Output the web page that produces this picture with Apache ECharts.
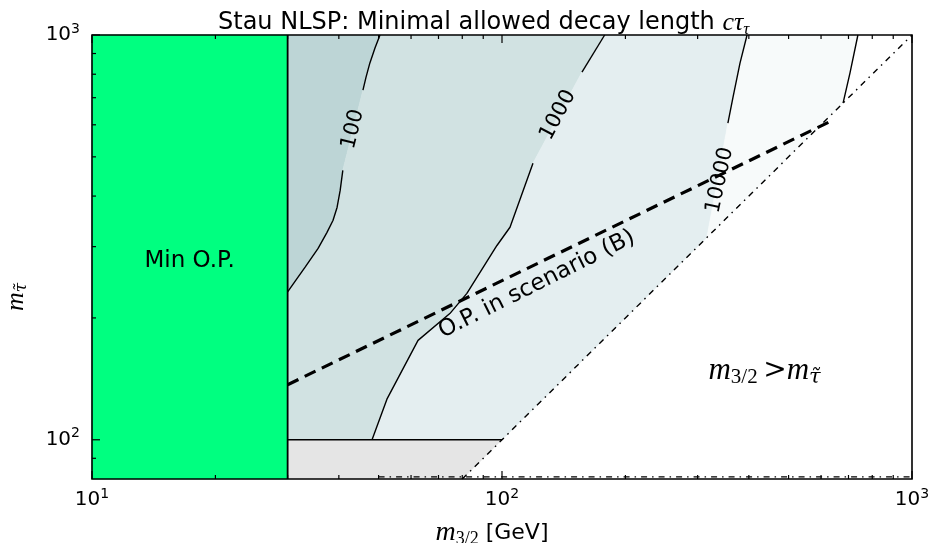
<!DOCTYPE html>
<html><head><meta charset="utf-8">
<script src="https://cdn.jsdelivr.net/npm/echarts@6/dist/echarts.min.js"></script>
<style>html,body{margin:0;padding:0;background:#fff}#c{width:930px;height:543px}</style>
</head><body><div id="c"></div>
<script>
// ---------- data ----------
const xMajor = [10, 100, 1000];
const yMajor = [100, 1000];
const xMinor = [20,30,40,50,60,70,80,90,200,300,400,500,600,700,800,900];
const yMinor = [90,200,300,400,500,600,700,800,900];

const minOPBand = [[10,80],[30,80],[30,1000],[10,1000]];
const grayBand = [[30,80],[80,80],[100,100],[30,100]];
const c100Top = [[50.4,1000],[49.0,929],[47.6,852],[46.6,787],[45.8,731]];
const c100Bottom = [[40.9,463],[40.3,413],[39.6,375],[38.7,348],[37.4,325],[35.6,297],[33.1,267],[31.4,247.5],[30,232]];
const c1000Top = [[178,1000],[156.7,810]];
const c1000Bottom = [[119,482],[104.6,335],[97.2,302],[82.1,230],[74.6,205],[62.4,176],[52.4,126],[48.2,100]];
const c10000Top = [[396,1000],[380.6,852],[366,702],[355.6,606]];
const c10000Bottom = [[316,316]];
const c1e5 = [[738,1000],[706,806],[679,679]];
const opLine = [[30,136.8],[641,616]];
const diagonal = [[80,80],[1000,1000]];
const gravLimit = [[30,100],[100,100]];
const minOPEdge = [[30,80],[30,1000]];
const bottomLine = [[50,81],[1000,81]];

const contourLabelText = ['100', '1000', '10000'];
const contourLabelAt = [[43.3,585],[137,634],[340,438]];
const textLabels = ['Min O.P.', 'O.P. in scenario (B)', '{m|m}{s|3/2}{r|\u2009>}{m|m}{t|τ̃}'];
const textLabelAt = [[17.3,277],[121.6,242],[437,148]];

// ---------- styles ----------
const contourAngles = [76, 62, 78];
const textAngles = [0, 26.5, 0];
const colDark = '#bdd5d6', colMid = '#d1e2e2', colLight = '#e4eef0', colPale = '#f7fafa';
const colGray = '#e5e5e5', colGreen = '#00ff80';

const rev = a => a.slice().reverse();
const c100 = c100Top.concat(c100Bottom);
const c1000 = c1000Top.concat(c1000Bottom);
const c10000 = c10000Top.concat(c10000Bottom);
const regions = [
  {pts: [[30,1000]].concat(c100), color: colDark},
  {pts: c100.concat([[30,100]], rev(c1000)), color: colMid},
  {pts: c1000.concat([[100,100]], rev(c10000)), color: colLight},
  {pts: c10000.concat(rev(c1e5)), color: colPale},
  {pts: grayBand, color: colGray},
  {pts: minOPBand, color: colGreen}
];

const serifIt = {fontFamily: 'Liberation Serif', fontStyle: 'italic', color: '#000'};

function lineS(data, width, type, z) {
  return {type: 'line', data: data, showSymbol: false, symbol: 'none', silent: true, z: z || 3,
    lineStyle: {color: '#000', width: width, type: type || 'solid', cap: 'butt'}, animation: false};
}
function pow10Label(v) {
  const e = Math.round(Math.log10(v));
  if (Math.abs(v - Math.pow(10, e)) > 1e-6 * v) return '';
  return '10{sup|' + e + '}';
}
const labelStyle = {formatter: pow10Label, color: '#000', fontSize: 20, fontFamily: 'DejaVu Sans', lineHeight: 26,
  showMinLabel: true, showMaxLabel: true,
  rich: {sup: {fontSize: 14, lineHeight: 12, verticalAlign: 'top', color: '#000', fontFamily: 'DejaVu Sans'}}};

const chart = echarts.init(document.getElementById('c'), null, {renderer: 'canvas'});
const series = [];
series.push({type: 'custom', coordinateSystem: 'cartesian2d', silent: true, z: 1, animation: false,
  data: regions.map(r => r.pts[0]),
  renderItem: (params, api) => {
    const r = regions[params.dataIndex];
    return {type: 'polygon', shape: {points: r.pts.map(p => api.coord(p))},
      style: {fill: r.color, stroke: r.color, lineWidth: 0.6}};
  }});
[c100Top, c100Bottom, c1000Top, c1000Bottom, c10000Top, c1e5].forEach(d => series.push(lineS(d, 1.4)));
series.push(lineS(gravLimit, 1.5));
series.push(lineS(minOPEdge, 1.8));
series.push(lineS(opLine, 3.2, [12, 7]));
series.push(lineS(diagonal, 1.4, [6, 5, 1.5, 5]));
series.push(lineS(bottomLine, 1.2, [6, 5, 1.5, 5]));
// contour labels
series.push({type: 'custom', coordinateSystem: 'cartesian2d', silent: true, z: 6, animation: false,
  data: contourLabelAt,
  renderItem: (params, api) => {
    const i = params.dataIndex;
    const p = api.coord(contourLabelAt[i]);
    return {type: 'text', x: p[0], y: p[1], rotation: contourAngles[i] * Math.PI / 180,
      style: {text: contourLabelText[i], fontSize: 21, fontFamily: 'DejaVu Sans', fill: '#000', align: 'center', verticalAlign: 'middle'}};
  }});
series.push({type: 'custom', coordinateSystem: 'cartesian2d', silent: true, z: 6, animation: false,
  data: textLabelAt,
  renderItem: (params, api) => {
    const i = params.dataIndex;
    const p = api.coord(textLabelAt[i]);
    return {type: 'text', x: p[0], y: p[1], rotation: textAngles[i] * Math.PI / 180,
      style: {text: textLabels[i], fontSize: 23, fontFamily: 'DejaVu Sans', fill: '#000', align: 'center', verticalAlign: 'middle',
        lineHeight: 34,
        rich: {m: Object.assign({fontSize: 31, lineHeight: 34}, serifIt),
               s: {fontSize: 21, lineHeight: 18, verticalAlign: 'bottom', fontFamily: 'Liberation Serif', color: '#000'},
               t: Object.assign({fontSize: 21, lineHeight: 18, verticalAlign: 'bottom'}, serifIt, {fontFamily: 'DejaVu Serif'}),
               r: {fontSize: 28, lineHeight: 34, fontFamily: 'DejaVu Serif', color: '#000'}}}};
  }});
// ticks
const xTicks = xMajor.map(v => [v, 100, 8]).concat(xMinor.map(v => [v, 100, 4]));
const yTicks = yMajor.map(v => [20, v, 8]).concat(yMinor.map(v => [20, v, 4]));
series.push({type: 'custom', coordinateSystem: 'cartesian2d', silent: true, z: 8, animation: false,
  data: xTicks,
  renderItem: (params, api) => {
    const x = api.coord([api.value(0), 100])[0];
    const cs = params.coordSys, len = api.value(2);
    const st = {stroke: '#000', lineWidth: 1.2};
    return {type: 'group', children: [
      {type: 'line', shape: {x1: x, y1: cs.y + cs.height, x2: x, y2: cs.y + cs.height - len}, style: st},
      {type: 'line', shape: {x1: x, y1: cs.y, x2: x, y2: cs.y + len}, style: st}]};
  }});
series.push({type: 'custom', coordinateSystem: 'cartesian2d', silent: true, z: 8, animation: false,
  data: yTicks,
  renderItem: (params, api) => {
    const y = api.coord([20, api.value(1)])[1];
    const cs = params.coordSys, len = api.value(2);
    return {type: 'line', shape: {x1: cs.x, y1: y, x2: cs.x + len, y2: y}, style: {stroke: '#000', lineWidth: 1.2}};
  }});
// frame
series.push({type: 'custom', coordinateSystem: 'cartesian2d', silent: true, z: 9, animation: false,
  data: [[10, 80]],
  renderItem: (params) => {
    const cs = params.coordSys;
    return {type: 'rect', shape: {x: cs.x, y: cs.y, width: cs.width, height: cs.height},
      style: {fill: null, stroke: '#000', lineWidth: 1.6}};
  }});

chart.setOption({
  animation: false,
  backgroundColor: '#fff',
  title: {text: 'Stau NLSP: Minimal allowed decay length {m|cτ}{s|τ}', left: 213, top: 3,
    textStyle: {fontFamily: 'DejaVu Sans', fontSize: 24, fontWeight: 'normal', color: '#000', lineHeight: 30,
      rich: {m: Object.assign({fontSize: 26, lineHeight: 30}, serifIt),
             s: Object.assign({fontSize: 17, lineHeight: 14, verticalAlign: 'bottom'}, serifIt)}}},
  grid: {left: 92, right: 18, top: 35, bottom: 64, containLabel: false, outerBoundsMode: 'none', show: false},
  xAxis: {type: 'log', logBase: 10, min: 10, max: 1000,
    axisLine: {show: false}, axisTick: {show: false}, splitLine: {show: false},
    axisLabel: Object.assign({margin: 8}, labelStyle),
    name: '{m|m}{s|3/2} [GeV]', nameLocation: 'middle', nameGap: 36,
    nameTextStyle: {fontFamily: 'DejaVu Sans', fontSize: 22, color: '#000', lineHeight: 30, padding: [0, 20, 0, 0],
      rich: {m: Object.assign({fontSize: 28, lineHeight: 30}, serifIt),
             s: {fontSize: 18, lineHeight: 16, verticalAlign: 'bottom', fontFamily: 'Liberation Serif', color: '#000'}}}},
  yAxis: {type: 'log', logBase: 10, min: 80, max: 1000,
    axisLine: {show: false}, axisTick: {show: false}, splitLine: {show: false},
    axisLabel: Object.assign({margin: 12}, labelStyle),
    name: '{m|m}{s|τ̃}', nameLocation: 'middle', nameRotate: 90, nameGap: 62,
    nameTextStyle: {fontSize: 20, color: '#000', lineHeight: 28, padding: [0, 80, 0, 0],
      rich: {m: Object.assign({fontSize: 26, lineHeight: 28}, serifIt),
             s: Object.assign({fontSize: 17, lineHeight: 14, verticalAlign: 'bottom'}, serifIt, {fontFamily: 'DejaVu Serif'})}}},
  series: series
});
</script></body></html>
